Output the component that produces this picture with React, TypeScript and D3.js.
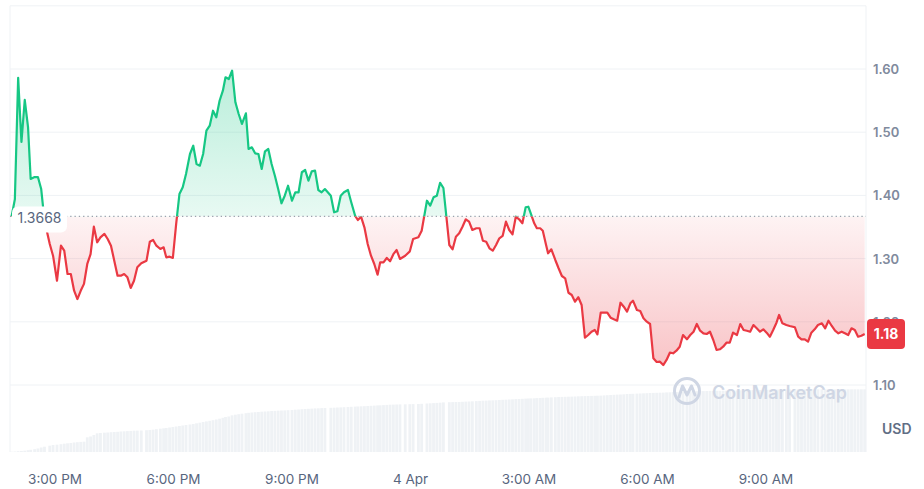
import React from 'react';
import * as d3 from 'd3';

const BASE_TIME = new Date(2025, 3, 3, 15, 0, 0).getTime();

// minutes relative to 3:00 PM (3 Apr)
const minutes = [
  -66, -61, -56, -51, -46, -41, -37, -31, -26, -21,
  -16, -8, -3, 3, 9, 14, 19, 24, 29, 34,
  39, 44, 49, 54, 59, 64, 69, 75, 80, 85,
  90, 95, 100, 105, 110, 115, 120, 125, 131, 139,
  144, 149, 154, 160, 165, 169, 174, 179, 184, 189,
  194, 199, 205, 210, 215, 220, 225, 230, 235, 240,
  245, 250, 255, 259, 264, 269, 274, 279, 284, 290,
  294, 299, 304, 309, 314, 319, 324, 329, 334, 339,
  344, 349, 354, 360, 365, 370, 375, 380, 385, 390,
  395, 400, 405, 410, 419, 424, 429, 434, 439, 445,
  450, 456, 460, 465, 470, 475, 480, 485, 490, 494,
  499, 504, 509, 514, 519, 524, 532, 539, 544, 552,
  557, 565, 570, 575, 580, 585, 590, 599, 604, 609,
  614, 619, 624, 629, 634, 640, 645, 650, 655, 660,
  665, 670, 675, 680, 685, 690, 695, 700, 705, 710,
  715, 719, 723, 728, 732, 737, 741, 746, 749, 754,
  760, 765, 770, 775, 780, 785, 790, 795, 800, 805,
  810, 815, 820, 824, 829, 834, 839, 844, 849, 854,
  859, 864, 869, 874, 878, 884, 889, 894, 899, 904,
  909, 914, 919, 924, 929, 934, 939, 944, 949, 954,
  960, 965, 970, 975, 980, 985, 990, 995, 1000, 1005,
  1010, 1015, 1020, 1025, 1030, 1036, 1041, 1046, 1051, 1056,
  1061, 1066, 1071, 1076, 1081, 1086, 1091, 1096, 1100, 1105,
  1111, 1116, 1124, 1129, 1134, 1139, 1144, 1149, 1154, 1159,
  1165, 1170, 1175, 1180, 1185, 1190, 1195, 1200, 1205, 1210,
  1215, 1220, 1225, 1230,
];

const prices = [
  1.3668, 1.394, 1.586, 1.4845, 1.551, 1.508, 1.426, 1.429, 1.429, 1.41,
  1.36, 1.323, 1.3046, 1.265, 1.3204, 1.3125, 1.2756, 1.2756, 1.2492, 1.236,
  1.249, 1.26, 1.2915, 1.307, 1.3505, 1.3258, 1.3337, 1.339, 1.331, 1.3204,
  1.2967, 1.273, 1.273, 1.2756, 1.2704, 1.2535, 1.265, 1.2862, 1.2926, 1.2967,
  1.3267, 1.3294, 1.3204, 1.3152, 1.3179, 1.302, 1.303, 1.301, 1.3547, 1.4022,
  1.4128, 1.4339, 1.4655, 1.4786, 1.4497, 1.447, 1.4655, 1.5024, 1.5103, 1.534,
  1.5236, 1.5498, 1.5657, 1.5869, 1.5842, 1.5973, 1.5473, 1.5288, 1.513, 1.5299,
  1.4734, 1.4761, 1.4666, 1.4655, 1.4418, 1.4698, 1.4734, 1.4497, 1.4312, 1.41,
  1.3875, 1.3995, 1.4153, 1.3916, 1.4049, 1.4049, 1.4366, 1.4402, 1.4233, 1.4381,
  1.4391, 1.4085, 1.4049, 1.41, 1.3995, 1.3733, 1.3749, 1.3995, 1.4049, 1.4085,
  1.3891, 1.3675, 1.3611, 1.366, 1.3495, 1.323, 1.3046, 1.2915, 1.2745, 1.2941,
  1.2941, 1.301, 1.2957, 1.307, 1.3136, 1.2994, 1.3046, 1.3115, 1.331, 1.3337,
  1.3441, 1.3916, 1.3837, 1.397, 1.3995, 1.42, 1.4117, 1.3215, 1.3147, 1.3347,
  1.34, 1.3505, 1.3622, 1.3584, 1.3453, 1.348, 1.348, 1.3283, 1.3267, 1.3163,
  1.3125, 1.3215, 1.3321, 1.3358, 1.3584, 1.3453, 1.3384, 1.3663, 1.3622, 1.3559,
  1.3812, 1.3821, 1.3706, 1.3559, 1.348, 1.348, 1.3441, 1.3215, 1.3084, 1.3147,
  1.2978, 1.2847, 1.2725, 1.2688, 1.246, 1.2424, 1.2318, 1.2388, 1.2266, 1.1748,
  1.1791, 1.1843, 1.187, 1.1802, 1.2144, 1.2144, 1.2144, 1.2065, 1.204, 1.2017,
  1.2302, 1.2239, 1.216, 1.2293, 1.2334, 1.2187, 1.2171, 1.2055, 1.2002, 1.1965,
  1.1422, 1.1364, 1.1369, 1.1316, 1.1396, 1.1511, 1.1502, 1.1543, 1.1606, 1.1791,
  1.1723, 1.1791, 1.1843, 1.1965, 1.1859, 1.1818, 1.1807, 1.1843, 1.1712, 1.1554,
  1.1565, 1.1606, 1.1669, 1.1669, 1.1828, 1.1791, 1.1965, 1.187, 1.1859, 1.1843,
  1.1949, 1.1897, 1.1843, 1.1881, 1.1828, 1.1764, 1.187, 1.1986, 1.2108, 1.1976,
  1.1949, 1.1934, 1.1913, 1.1764, 1.1723, 1.1723, 1.1685, 1.1828, 1.1881, 1.1949,
  1.1976, 1.1897, 1.2017, 1.1934, 1.1859, 1.1818, 1.1843, 1.1818, 1.1791, 1.1897,
  1.187, 1.1764, 1.178, 1.1807,
];

const volumes = [
  0.3, 0.5, 0.8, 1, 1.3, 1.8, 2.2, 2.8, 3.5, 4.5,
  5.3, 6.3, 7, 7.3, 7.8, 8.3, 8.7, 9, 9.5, 9.8,
  10.1, 10.3, 14.7, 15.5, 17, 18.7, 19, 19.3, 19.5, 19.8,
  20, 20.2, 20.5, 20.7, 20.9, 21.1, 21.3, 21.4, 21.5, 21.8,
  22, 22.3, 22.8, 23.3, 23.7, 24, 24.5, 25, 25.5, 26,
  26.5, 27, 27.5, 28, 28.7, 29.3, 30, 30.6, 31.2, 31.8,
  32.5, 33.3, 34.2, 35, 35.5, 36.7, 37.3, 37.8, 38.3, 38.8,
  39.2, 39.5, 39.8, 40, 40.3, 40.5, 40.7, 41, 41.1, 41.3,
  41.5, 41.6, 41.8, 42, 42.3, 42.5, 42.8, 43, 43.2, 43.4,
  43.6, 43.7, 43.9, 44, 44.2, 44.3, 44.5, 44.6, 44.8, 45,
  45.2, 45.4, 45.5, 45.7, 45.8, 46, 46.2, 46.4, 46.6, 46.7,
  46.9, 47.1, 47.3, 47.4, 47.5, 47.6, 47.7, 47.8, 47.9, 48,
  48.2, 48.5, 48.7, 48.9, 49.1, 49.3, 49.6, 49.8, 49.9, 50,
  50, 50.2, 50.4, 50.5, 50.7, 50.9, 51.1, 51.3, 51.4, 51.6,
  51.7, 51.8, 52, 52.2, 52.3, 52.5, 52.7, 52.9, 53, 53.2,
  53.4, 53.5, 53.6, 53.7, 53.9, 54, 54.2, 54.3, 54.4, 54.6,
  54.8, 55, 55.1, 55.2, 55.3, 55.4, 55.5, 55.7, 55.8, 55.9,
  56, 56.1, 56.2, 56.3, 56.4, 56.6, 56.8, 57, 57.2, 57.4,
  57.5, 57.7, 58, 58.1, 58.2, 58.4, 58.5, 58.7, 58.8, 59,
  59.1, 59.2, 59.3, 59.4, 59.6, 59.7, 59.9, 60, 60.2, 60.3,
  60.5, 60.6, 60.7, 60.8, 60.9, 60.9, 61, 61.1, 61.1, 61.2,
  61.2, 61.3, 61.3, 61.4, 61.5, 61.6, 61.7, 61.7, 61.8, 61.9,
  61.9, 62, 62, 62.1, 62.2, 62.3, 62.3, 62.4, 62.5, 62.5,
  62.6, 62.6, 62.7, 62.7, 62.7, 62.7, 62.7, 62.7, 62.7, 62.7,
  62.7, 62.7, 62.7, 62.7, 62.7, 62.7, 62.7, 62.7, 62.7, 62.7,
  62.7, 62.7, 62.7, 62.7,
];

const openPrice = 1.3668;
const openPriceLabel = '1.3668';
const lastPriceLabel = '1.18';
const yTickValues = [1.1, 1.2, 1.3, 1.4, 1.5, 1.6];
const yTickLabels = ['1.10', '1.20', '1.30', '1.40', '1.50', '1.60'];
const gridValues = [1.1, 1.2, 1.3, 1.4, 1.5, 1.6, 1.7];
const xTickMinutes = [0, 180, 360, 540, 720, 900, 1080];
const xTickLabels = ['3:00 PM', '6:00 PM', '9:00 PM', '4 Apr', '3:00 AM', '6:00 AM', '9:00 AM'];
const domainMinutes = [-68.4, 1232];
const currencyLabel = 'USD';
const watermark = 'CoinMarketCap';

const toDate = (m: number) => new Date(BASE_TIME + m * 60000);

const GREEN = '#16c784';
const RED = '#ea3943';
const FONT = "Inter, 'Noto Sans', sans-serif";

export default function App() {
  const W = 924;
  const H = 489;
  const left = 10;
  const right = 866;
  const volBottom = 452;

  const x = d3.scaleTime().domain([toDate(domainMinutes[0]), toDate(domainMinutes[1])]).range([left, right]);
  const y = d3.scaleLinear().domain([1.1, 1.6]).range([385, 69]);
  const yv = d3.scaleLinear().domain([0, 70]).range([volBottom, volBottom - 70]);

  const data = minutes.map((m, i) => ({ t: toDate(m), p: prices[i], v: volumes[i] }));
  const yb = y(openPrice);

  const line = d3.line<any>().x((d) => x(d.t)).y((d) => y(d.p));
  const area = d3.area<any>().x((d) => x(d.t)).y0(yb).y1((d) => y(d.p));
  const linePath = line(data) || '';
  const areaPath = area(data) || '';

  const lastY = y(prices[prices.length - 1]);
  const barW = 2.8;

  return (
    <svg width={W} height={H} style={{ position: 'absolute', left: 0, top: 0, display: 'block', background: '#fff' }} fontFamily={FONT}>
      <defs>
        <clipPath id="clipAbove">
          <rect x={0} y={0} width={W} height={yb} />
        </clipPath>
        <clipPath id="clipBelow">
          <rect x={0} y={yb} width={W} height={H - yb} />
        </clipPath>
        <linearGradient id="gGreen" gradientUnits="userSpaceOnUse" x1={0} y1={y(1.6)} x2={0} y2={yb}>
          <stop offset="0" stopColor={GREEN} stopOpacity={0.3} />
          <stop offset="1" stopColor={GREEN} stopOpacity={0.1} />
        </linearGradient>
        <linearGradient id="gRed" gradientUnits="userSpaceOnUse" x1={0} y1={yb} x2={0} y2={y(1.13)}>
          <stop offset="0" stopColor={RED} stopOpacity={0.06} />
          <stop offset="1" stopColor={RED} stopOpacity={0.3} />
        </linearGradient>
      </defs>

      {/* grid */}
      {gridValues.map((v) => (
        <line key={v} x1={left} x2={right} y1={y(v)} y2={y(v)} stroke="#eff2f5" strokeWidth={1} />
      ))}
      <line x1={left} x2={left} y1={y(1.7)} y2={volBottom} stroke="#eff2f5" strokeWidth={1} />
      <line x1={right} x2={right} y1={y(1.7)} y2={volBottom} stroke="#eff2f5" strokeWidth={1} />

      {/* volume */}
      {data.map((d, i) => (
        <rect key={i} x={x(d.t) - barW / 2} y={yv(d.v)} width={barW} height={volBottom - yv(d.v)} fill="#eff2f5" />
      ))}

      {/* watermark */}
      <g>
        <circle cx={687} cy={391} r={12.5} fill="none" stroke="#cfd6e4" strokeWidth={3} />
        <path d="M679,397 L682.5,386 L687,395 L691.5,386 L695,395" fill="none" stroke="#cfd6e4" strokeWidth={3} strokeLinejoin="round" strokeLinecap="round" />
        <text x={712} y={399} fontSize={18} fontWeight={600} fill="#cfd6e4" textLength={135} lengthAdjust="spacingAndGlyphs">{watermark}</text>
      </g>

      {/* areas */}
      <path d={areaPath} fill="url(#gGreen)" clipPath="url(#clipAbove)" />
      <path d={areaPath} fill="url(#gRed)" clipPath="url(#clipBelow)" />

      {/* baseline */}
      <line x1={left} x2={right} y1={yb} y2={yb} stroke="#9aa1ad" strokeWidth={1.2} strokeDasharray="1.3 3" />

      {/* lines */}
      <path d={linePath} fill="none" stroke={GREEN} strokeWidth={2.2} strokeLinejoin="round" clipPath="url(#clipAbove)" />
      <path d={linePath} fill="none" stroke={RED} strokeWidth={2.2} strokeLinejoin="round" clipPath="url(#clipBelow)" />

      {/* open price label */}
      <rect x={12} y={yb - 10} width={55} height={26} rx={6} fill="#ffffff" />
      <text x={39.5} y={yb + 3} textAnchor="middle" dominantBaseline="middle" fontSize={14} fill="#58667e">{openPriceLabel}</text>

      {/* y axis labels (1.20 sits under the last-price tag, as in the original) */}
      {yTickValues.map((v, i) => (
        <text key={v} x={873} y={y(v)} dominantBaseline="central" fontSize={13} fontWeight={600} fill="#808a9d">{yTickLabels[i]}</text>
      ))}
      <text x={882} y={428} dominantBaseline="central" fontSize={14} fontWeight={600} fill="#616e85">{currencyLabel}</text>

      {/* last price */}
      <rect x={867} y={lastY - 15} width={38} height={30} rx={4} fill={RED} />
      <text x={886} y={lastY} textAnchor="middle" dominantBaseline="central" fontSize={14} fontWeight={700} fill="#fff">{lastPriceLabel}</text>

      {/* x axis labels */}
      {xTickMinutes.map((m, i) => (
        <text key={m} x={x(toDate(m))} y={479} textAnchor="middle" dominantBaseline="central" fontSize={13.5} fill="#58667e">{xTickLabels[i]}</text>
      ))}
    </svg>
  );
}
